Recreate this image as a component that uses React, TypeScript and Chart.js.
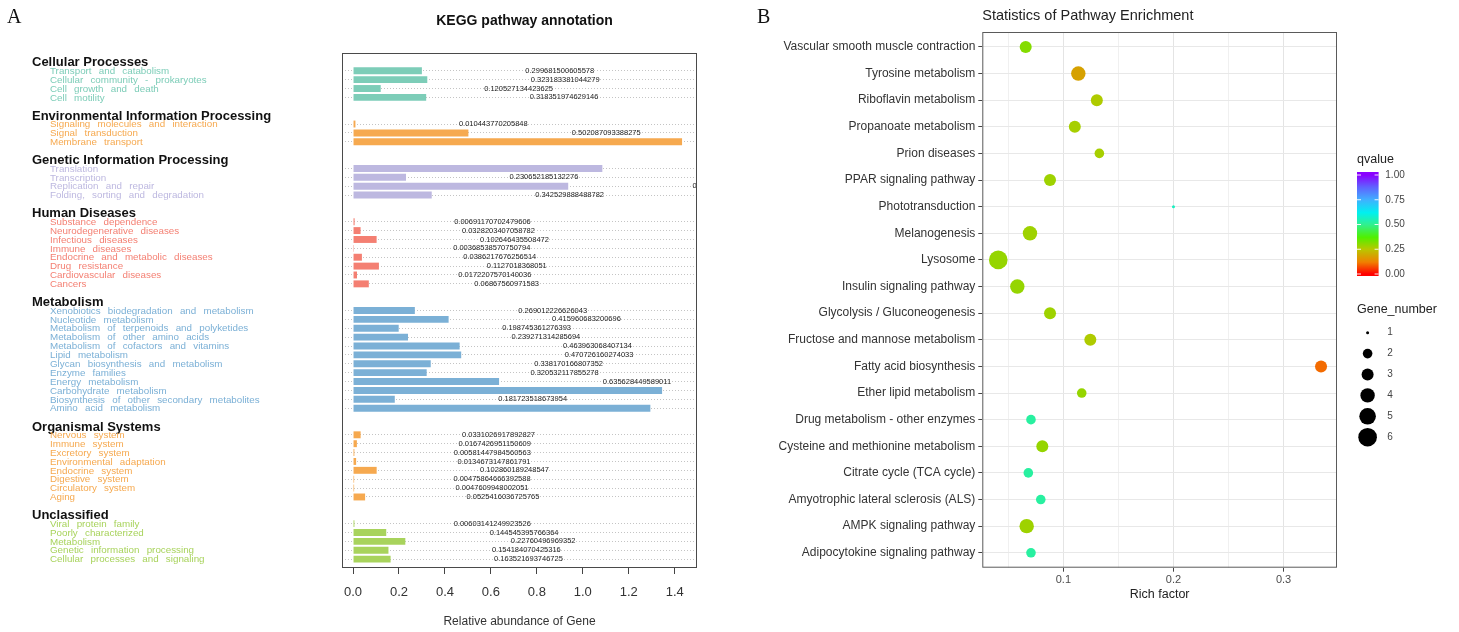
import React, { useEffect, useRef } from 'react';
import { Chart, registerables } from 'chart.js';

Chart.register(...registerables);

const SANS = '"Liberation Sans", Arial, Helvetica, sans-serif';
const SERIF = '"Liberation Serif", "Times New Roman", serif';

// ---------------- Panel A : KEGG pathway annotation ----------------
const TITLE_A = 'KEGG pathway annotation';
const AXIS_A = 'Relative abundance of Gene';
const GROUP_NAMES = [
  'Cellular Processes',
  'Environmental Information Processing',
  'Genetic Information Processing',
  'Human Diseases',
  'Metabolism',
  'Organismal Systems',
  'Unclassified',
];
const GROUP_COLORS = ['#7dcdb8', '#f6a94f', '#bdb8e0', '#f47f72', '#7bb0d6', '#f6a94f', '#a8d35c'];

const CELLULAR_ITEMS = ['Transport and catabolism', 'Cellular community - prokaryotes', 'Cell growth and death', 'Cell motility'];
const CELLULAR_VALUES = [0.299681500605578, 0.323183381044279, 0.120527134423625, 0.318351974629146];

const ENV_ITEMS = ['Signaling molecules and interaction', 'Signal transduction', 'Membrane transport'];
const ENV_VALUES = [0.010443770205848, 0.502087093388275, 1.432];

const GENETIC_ITEMS = ['Translation', 'Transcription', 'Replication and repair', 'Folding, sorting and degradation'];
const GENETIC_VALUES = [1.085, 0.230652185132276, 0.93652, 0.342529888488782];

const HUMAN_ITEMS = ['Substance dependence', 'Neurodegenerative diseases', 'Infectious diseases', 'Immune diseases', 'Endocrine and metabolic diseases', 'Drug resistance', 'Cardiovascular diseases', 'Cancers'];
const HUMAN_VALUES = [0.00691170702479606, 0.0328203407058782, 0.102646435508472, 0.00368538570750794, 0.0386217676256514, 0.1127018368051, 0.0172207570140036, 0.06867560971583];

const METABOLISM_ITEMS = ['Xenobiotics biodegradation and metabolism', 'Nucleotide metabolism', 'Metabolism of terpenoids and polyketides', 'Metabolism of other amino acids', 'Metabolism of cofactors and vitamins', 'Lipid metabolism', 'Glycan biosynthesis and metabolism', 'Enzyme families', 'Energy metabolism', 'Carbohydrate metabolism', 'Biosynthesis of other secondary metabolites', 'Amino acid metabolism'];
const METABOLISM_VALUES = [0.269012226626043, 0.415960683200696, 0.198745361276393, 0.239271314285694, 0.463963068407134, 0.470726160274033, 0.338170166807352, 0.320532117855278, 0.635628449589011, 1.345, 0.181723518673954, 1.294];

const ORGANISMAL_ITEMS = ['Nervous system', 'Immune system', 'Excretory system', 'Environmental adaptation', 'Endocrine system', 'Digestive system', 'Circulatory system', 'Aging'];
const ORGANISMAL_VALUES = [0.0331026917892827, 0.0167426951150609, 0.00581447984560563, 0.0134673147861791, 0.102860189248547, 0.00475864666392588, 0.0047609948002051, 0.0525416036725765];

const UNCLASSIFIED_ITEMS = ['Viral protein family', 'Poorly characterized', 'Metabolism', 'Genetic information processing', 'Cellular processes and signaling'];
const UNCLASSIFIED_VALUES = [0.00603141249923526, 0.144545395766364, 0.22760496969352, 0.154184070425316, 0.163521693746725];

const GROUP_ITEMS = [CELLULAR_ITEMS, ENV_ITEMS, GENETIC_ITEMS, HUMAN_ITEMS, METABOLISM_ITEMS, ORGANISMAL_ITEMS, UNCLASSIFIED_ITEMS];
const GROUP_VALUES = [CELLULAR_VALUES, ENV_VALUES, GENETIC_VALUES, HUMAN_VALUES, METABOLISM_VALUES, ORGANISMAL_VALUES, UNCLASSIFIED_VALUES];

const X_TICKS_A = [0, 0.2, 0.4, 0.6, 0.8, 1.0, 1.2, 1.4];
const LABEL_OFFSET = 0.6; // value labels are written at value + 0.6 (as in the original R plot)

type Row = { kind: 'blank' | 'header' | 'item'; label: string; value?: number; group?: number };

function buildRows(): Row[] {
  const rows: Row[] = [{ kind: 'blank', label: ' ' }];
  GROUP_NAMES.forEach((g, gi) => {
    if (gi > 0) rows.push({ kind: 'blank', label: ' ' });
    rows.push({ kind: 'header', label: g, group: gi });
    GROUP_ITEMS[gi].forEach((it, k) => rows.push({ kind: 'item', label: it, value: GROUP_VALUES[gi][k], group: gi }));
  });
  rows.push({ kind: 'blank', label: ' ' });
  return rows;
}

function KeggChart() {
  const ref = useRef<HTMLCanvasElement>(null);
  useEffect(() => {
    const rows = buildRows();
    const textPlugin = {
      id: 'keggText',
      afterDraw(chart: any) {
        const { ctx, chartArea: ca, scales } = chart;
        const x = scales.x;
        const y = scales.y;
        ctx.save();
        // box
        ctx.strokeStyle = '#4a4a4a';
        ctx.lineWidth = 1;
        ctx.strokeRect(ca.left + 0.5, ca.top + 0.5, ca.right - ca.left - 1, ca.bottom - ca.top - 1);
        // value labels (clipped to the plotting region)
        ctx.save();
        ctx.beginPath();
        ctx.rect(ca.left + 1, ca.top, ca.right - ca.left - 2, ca.bottom - ca.top);
        ctx.clip();
        ctx.font = `7.5px ${SANS}`;
        ctx.fillStyle = '#222';
        ctx.textAlign = 'center';
        ctx.textBaseline = 'middle';
        rows.forEach((r, i) => {
          if (r.kind === 'item' && r.value !== undefined) {
            ctx.fillText(String(r.value), x.getPixelForValue(r.value + LABEL_OFFSET), y.getPixelForValue(i));
          }
        });
        ctx.restore();
        // category labels on the left
        ctx.textAlign = 'left';
        ctx.textBaseline = 'middle';
        rows.forEach((r, i) => {
          const py = y.getPixelForValue(i);
          if (r.kind === 'header') {
            ctx.font = `bold 13px ${SANS}`;
            ctx.fillStyle = '#111';
            (ctx as any).wordSpacing = '0px';
            ctx.fillText(r.label, 32, py + 1);
          } else if (r.kind === 'item') {
            ctx.font = `9.8px ${SANS}`;
            ctx.fillStyle = GROUP_COLORS[r.group as number];
            (ctx as any).wordSpacing = '4.5px';
            ctx.fillText(r.label, 50, py + 0.5);
          }
        });
        (ctx as any).wordSpacing = '0px';
        // title
        ctx.textAlign = 'center';
        ctx.font = `bold 14px ${SANS}`;
        ctx.fillStyle = '#111';
        ctx.fillText(TITLE_A, (ca.left + ca.right) / 2 + 5, 21);
        // axis title
        ctx.font = `12px ${SANS}`;
        ctx.fillStyle = '#333';
        ctx.fillText(AXIS_A, (ca.left + ca.right) / 2, ca.bottom + 54);
        // panel letter
        ctx.textAlign = 'left';
        ctx.font = `20px ${SERIF}`;
        ctx.fillStyle = '#111';
        ctx.fillText('A', 7, 18);
        ctx.restore();
      },
    };

    const chart = new Chart(ref.current as HTMLCanvasElement, {
      type: 'bar',
      data: {
        labels: rows.map((r) => r.label),
        datasets: [
          {
            data: rows.map((r) => (r.kind === 'item' ? (r.value as number) : null)),
            backgroundColor: rows.map((r) => (r.kind === 'item' ? GROUP_COLORS[r.group as number] : 'rgba(0,0,0,0)')),
            borderWidth: 0,
            barPercentage: 0.78,
            categoryPercentage: 1,
          },
        ],
      },
      options: {
        indexAxis: 'y',
        animation: false,
        responsive: false,
        events: [],
        layout: { padding: { top: 53, right: 48, left: 0, bottom: 0 } },
        plugins: { legend: { display: false }, tooltip: { enabled: false }, title: { display: false } },
        scales: {
          x: {
            type: 'linear',
            position: 'bottom',
            min: -0.048,
            max: 1.497,
            afterBuildTicks: (s: any) => {
              s.ticks = X_TICKS_A.map((v) => ({ value: v }));
            },
            afterFit: (s: any) => {
              s.height = 64;
            },
            ticks: {
              callback: (v: any) => Number(v).toFixed(1),
              font: { size: 13, family: SANS },
              color: '#333',
              padding: 11,
            },
            grid: { drawOnChartArea: false, tickLength: 6, tickColor: '#444' },
            border: { display: false },
          },
          y: {
            type: 'category',
            offset: false,
            afterFit: (s: any) => {
              s.width = 342;
            },
            ticks: { display: false, autoSkip: false },
            grid: {
              offset: false,
              drawTicks: false,
              color: (c: any) => (rows[c.index] && rows[c.index].kind === 'item' ? '#c4c4c4' : 'rgba(0,0,0,0)'),
              lineWidth: 1,
            },
            border: { display: false, dash: [1, 2] },
          },
        },
      } as any,
      plugins: [textPlugin],
    });
    return () => chart.destroy();
  }, []);
  return <canvas ref={ref} width={745} height={632} />;
}

// ---------------- Panel B : Statistics of Pathway Enrichment ----------------
const TITLE_B = 'Statistics of Pathway Enrichment';
const AXIS_B = 'Rich factor';
const PATHWAYS = [
  'Vascular smooth muscle contraction',
  'Tyrosine metabolism',
  'Riboflavin metabolism',
  'Propanoate metabolism',
  'Prion diseases',
  'PPAR signaling pathway',
  'Phototransduction',
  'Melanogenesis',
  'Lysosome',
  'Insulin signaling pathway',
  'Glycolysis / Gluconeogenesis',
  'Fructose and mannose metabolism',
  'Fatty acid biosynthesis',
  'Ether lipid metabolism',
  'Drug metabolism - other enzymes',
  'Cysteine and methionine metabolism',
  'Citrate cycle (TCA cycle)',
  'Amyotrophic lateral sclerosis (ALS)',
  'AMPK signaling pathway',
  'Adipocytokine signaling pathway',
];
const RICH_FACTOR = [0.0658, 0.1136, 0.1304, 0.1104, 0.1327, 0.0879, 0.2, 0.0697, 0.0409, 0.0582, 0.0879, 0.1245, 0.334, 0.1167, 0.0706, 0.0809, 0.0682, 0.0795, 0.0667, 0.0706];
const GENE_NUMBER = [3, 4, 3, 3, 2, 3, 1, 4, 6, 4, 3, 3, 3, 2, 2, 3, 2, 2, 4, 2];
const Q_VALUE = [0.31, 0.18, 0.26, 0.27, 0.27, 0.28, 0.56, 0.28, 0.29, 0.29, 0.28, 0.26, 0.1, 0.29, 0.52, 0.29, 0.52, 0.52, 0.28, 0.52];

const RICH_TICKS = [0.1, 0.2, 0.3];
const RICH_GRID = [0.05, 0.1, 0.15, 0.2, 0.25, 0.3];
const Q_TICKS = [0, 0.25, 0.5, 0.75, 1];
const GENE_LEGEND = [1, 2, 3, 4, 5, 6];
const SIZE_RADIUS = [0, 1.5, 4.8, 6, 7.2, 8.3, 9.3];
const Q_STOPS: [number, string][] = [
  [0, '#ff0000'],
  [0.12, '#f08000'],
  [0.25, '#b8c800'],
  [0.37, '#50f000'],
  [0.5, '#30f090'],
  [0.62, '#00f0f0'],
  [0.75, '#40b0ff'],
  [0.88, '#6060ff'],
  [1, '#8a00ff'],
];

function hexToRgb(h: string) {
  const n = parseInt(h.slice(1), 16);
  return [(n >> 16) & 255, (n >> 8) & 255, n & 255];
}
function qColor(q: number) {
  for (let i = 1; i < Q_STOPS.length; i++) {
    const [p1, c1] = Q_STOPS[i];
    const [p0, c0] = Q_STOPS[i - 1];
    if (q <= p1) {
      const t = (q - p0) / (p1 - p0);
      const a = hexToRgb(c0);
      const b = hexToRgb(c1);
      const m = a.map((v, k) => Math.round(v + (b[k] - v) * t));
      return `rgb(${m[0]},${m[1]},${m[2]})`;
    }
  }
  return Q_STOPS[Q_STOPS.length - 1][1];
}
const isMajor = (v: number) => RICH_TICKS.some((t) => Math.abs(t - v) < 1e-9);

function EnrichmentChart() {
  const ref = useRef<HTMLCanvasElement>(null);
  useEffect(() => {
    const plugin = {
      id: 'enrichText',
      afterDraw(chart: any) {
        const { ctx, chartArea: ca } = chart;
        ctx.save();
        ctx.strokeStyle = '#5a5a5a';
        ctx.lineWidth = 1;
        ctx.strokeRect(ca.left + 0.5, ca.top + 0.5, ca.right - ca.left - 1, ca.bottom - ca.top - 1);
        ctx.textBaseline = 'middle';
        // panel letter
        ctx.textAlign = 'left';
        ctx.font = `20px ${SERIF}`;
        ctx.fillStyle = '#111';
        ctx.fillText('B', 12, 18);
        // title
        ctx.font = `14.5px ${SANS}`;
        ctx.fillStyle = '#222';
        ctx.fillText(TITLE_B, ca.left, 16);
        // x title
        ctx.textAlign = 'center';
        ctx.font = `12.5px ${SANS}`;
        ctx.fillStyle = '#222';
        ctx.fillText(AXIS_B, (ca.left + ca.right) / 2, ca.bottom + 27);
        // colour legend
        const lx = ca.right + 20;
        ctx.textAlign = 'left';
        ctx.font = `12.5px ${SANS}`;
        ctx.fillText('qvalue', lx, 160);
        const yQ0 = 274;
        const yQ1 = 175;
        const grad = ctx.createLinearGradient(0, yQ0, 0, yQ1);
        Q_STOPS.forEach(([p, c]) => grad.addColorStop(p, c));
        ctx.fillStyle = grad;
        ctx.fillRect(lx, 172, 21.6, 104);
        ctx.font = `10px ${SANS}`;
        Q_TICKS.forEach((q) => {
          const py = yQ0 + (yQ1 - yQ0) * q;
          ctx.strokeStyle = 'rgba(255,255,255,0.9)';
          ctx.beginPath();
          ctx.moveTo(lx, py);
          ctx.lineTo(lx + 4, py);
          ctx.moveTo(lx + 17.6, py);
          ctx.lineTo(lx + 21.6, py);
          ctx.stroke();
          ctx.fillStyle = '#444';
          ctx.fillText(q.toFixed(2), lx + 28.3, py);
        });
        // size legend
        ctx.font = `12.5px ${SANS}`;
        ctx.fillStyle = '#222';
        ctx.fillText('Gene_number', lx, 310);
        ctx.font = `10px ${SANS}`;
        GENE_LEGEND.forEach((g, k) => {
          const py = 332.7 + k * 20.9;
          ctx.fillStyle = '#000';
          ctx.beginPath();
          ctx.arc(lx + 10.6, py, SIZE_RADIUS[g], 0, Math.PI * 2);
          ctx.fill();
          ctx.fillStyle = '#444';
          ctx.fillText(String(g), lx + 30.3, py);
        });
        ctx.restore();
      },
    };
    const chart = new Chart(ref.current as HTMLCanvasElement, {
      type: 'bubble',
      data: {
        datasets: [
          {
            data: PATHWAYS.map((_, i) => ({ x: RICH_FACTOR[i], y: i, r: SIZE_RADIUS[GENE_NUMBER[i]] })),
            backgroundColor: Q_VALUE.map(qColor),
            borderWidth: 0,
          },
        ],
      },
      options: {
        animation: false,
        responsive: false,
        events: [],
        layout: { padding: { top: 32, right: 122, left: 0, bottom: 0 } },
        plugins: { legend: { display: false }, tooltip: { enabled: false } },
        scales: {
          x: {
            type: 'linear',
            min: 0.0264,
            max: 0.3485,
            afterBuildTicks: (s: any) => {
              s.ticks = RICH_GRID.map((v) => ({ value: v }));
            },
            afterFit: (s: any) => {
              s.height = 64.3;
            },
            ticks: {
              autoSkip: false,
              maxRotation: 0,
              callback: (v: any) => (isMajor(Number(v)) ? Number(v).toFixed(1) : ''),
              font: { size: 11, family: SANS },
              color: '#4d4d4d',
              padding: 2,
            },
            grid: {
              color: (c: any) => (c.tick && isMajor(c.tick.value) ? '#e4e4e4' : '#f0f0f0'),
              tickColor: (c: any) => (c.tick && isMajor(c.tick.value) ? '#444' : 'rgba(0,0,0,0)'),
              tickLength: 4,
            },
            border: { display: false },
          },
          y: {
            type: 'linear',
            reverse: true,
            min: -0.56,
            max: 19.56,
            afterBuildTicks: (s: any) => {
              s.ticks = PATHWAYS.map((_, i) => ({ value: i }));
            },
            afterFit: (s: any) => {
              s.width = 237.3;
            },
            ticks: {
              autoSkip: false,
              callback: (v: any) => PATHWAYS[Number(v)],
              font: { size: 12, family: SANS },
              color: '#333',
              padding: 3,
            },
            grid: { color: '#e8e8e8', tickColor: '#444', tickLength: 4 },
            border: { display: false },
          },
        },
      } as any,
      plugins: [plugin],
    });
    return () => chart.destroy();
  }, []);
  return <canvas ref={ref} width={714} height={632} />;
}

export default function App() {
  return (
    <div>
      <div style={{ position: 'absolute', left: 0, top: 0, width: 745, height: 632, background: '#fff' }}>
        <KeggChart />
      </div>
      <div style={{ position: 'absolute', left: 745, top: 0, width: 714, height: 632, background: '#fff' }}>
        <EnrichmentChart />
      </div>
    </div>
  );
}
